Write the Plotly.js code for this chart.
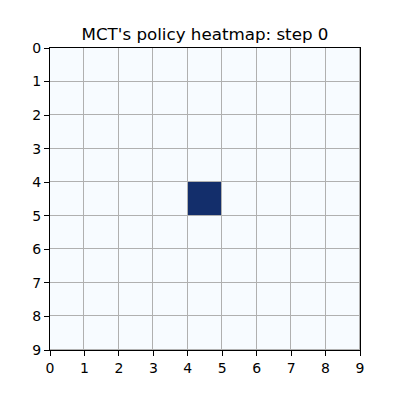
<!DOCTYPE html>
<html><head><meta charset="utf-8">
<script src="https://cdn.plot.ly/plotly-3.0.1.min.js"></script>
<style>html,body{margin:0;padding:0;background:#fff}#c{width:400px;height:400px}</style>
</head><body><div id="c"></div>
<script>
const rowLabels = [0,1,2,3,4,5,6,7,8];
const colLabels = [0,1,2,3,4,5,6,7,8];
const tickLabels = [0,1,2,3,4,5,6,7,8,9];
const policy = [
  [0,0,0,0,0,0,0,0,0],
  [0,0,0,0,0,0,0,0,0],
  [0,0,0,0,0,0,0,0,0],
  [0,0,0,0,0,0,0,0,0],
  [0,0,0,0,1,0,0,0,0],
  [0,0,0,0,0,0,0,0,0],
  [0,0,0,0,0,0,0,0,0],
  [0,0,0,0,0,0,0,0,0],
  [0,0,0,0,0,0,0,0,0]
];
const trace = {
  type:'heatmap', z: policy,
  x: colLabels.map(v=>v+0.5), y: rowLabels.map(v=>v+0.5),
  colorscale:[[0,'#f7fbff'],[1,'#132e6b']], zmin:0, zmax:1,
  showscale:false, xgap:1, ygap:1, hoverinfo:'skip'
};
const ax = {
  range:[0,9], tickvals:tickLabels, ticktext:tickLabels.map(String),
  showgrid:false, zeroline:false, showline:true, linecolor:'#000', linewidth:1, mirror:true,
  ticks:'outside', ticklen:5, tickcolor:'#000', tickwidth:1,
  tickfont:{family:'DejaVu Sans', size:14, color:'#000'}
};
const layout = {
  width:400, height:400, margin:{l:50,r:40,t:48,b:50},
  paper_bgcolor:'#fff', plot_bgcolor:'#b0b0b0',
  title:{text:"MCT's policy heatmap: step 0", x:0.5125, xanchor:'center', y:0.915, yanchor:'middle',
    font:{family:'DejaVu Sans', size:16.7, color:'#000'}},
  xaxis:Object.assign({}, ax),
  yaxis:Object.assign({}, ax, {range:[9,0]})
};
Plotly.newPlot('c',[trace],layout,{staticPlot:true});
</script></body></html>
